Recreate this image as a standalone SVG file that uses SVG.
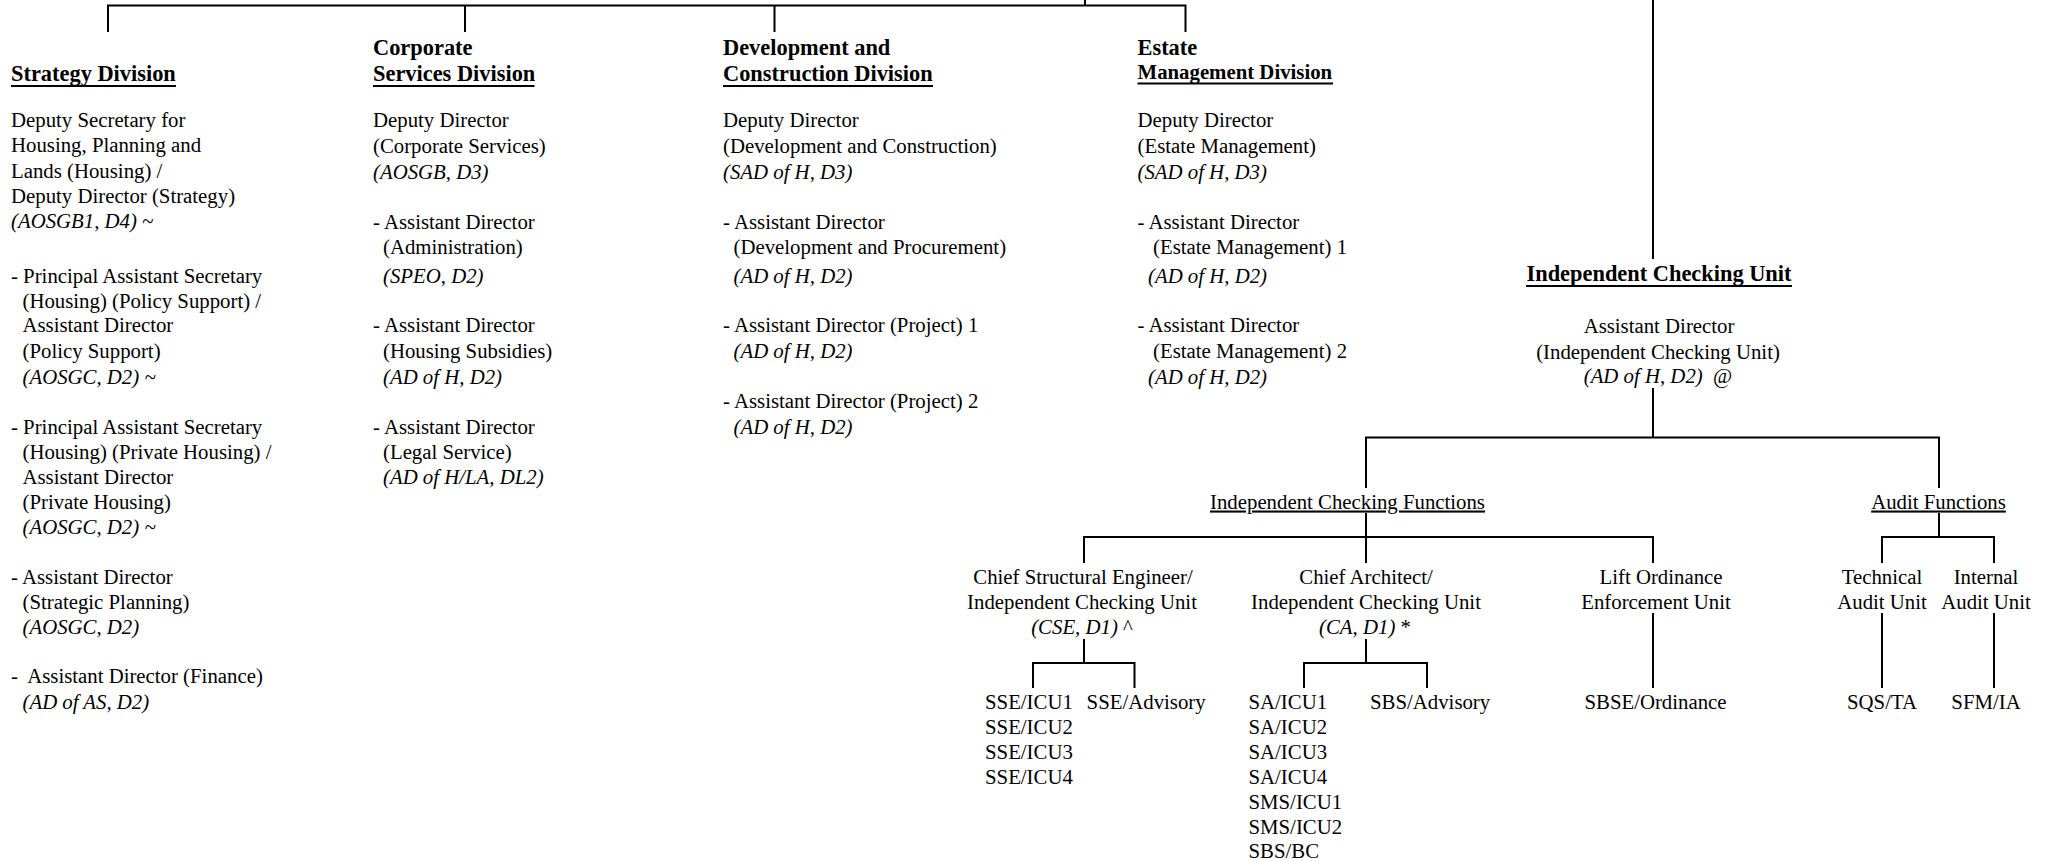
<svg xmlns="http://www.w3.org/2000/svg" width="2048" height="861" viewBox="0 0 2048 861">
<style>
text { font-family: "Liberation Serif", "Times New Roman", serif; font-size: 20.8px; fill: #000; }
.b { font-weight: bold; font-size: 22.4px; }
.bs { font-weight: bold; font-size: 20.8px; }
.i { font-style: italic; }
.n { font-style: normal; }
.c { text-anchor: middle; }
.u { text-decoration: underline; }
.ln { stroke: #000; stroke-width: 2; fill: none; }
.ul { stroke: #000; stroke-width: 2; }
</style>
<rect x="0" y="0" width="2048" height="861" fill="#fff"/>

<g id="connectors" class="ln">
  <path d="M1085 0 V5.5 M107 5.5 H1186.5 M108 5.5 V32 M465 5.5 V32 M774.5 5.5 V32 M1185.5 5.5 V32"/>
  <path d="M1653 0 V259"/>
  <path d="M1653 388 V437.5 M1365 437.5 H1940 M1366 437.5 V488 M1939 437.5 V488"/>
  <path d="M1366 513 V537 M1083 537 H1654 M1084 537 V563 M1366 537 V563 M1653 537 V563"/>
  <path d="M1939 513 V537 M1881 537 H1995 M1882 537 V563 M1994 537 V563"/>
  <path d="M1084 639 V663 M1032 663 H1135.5 M1033 663 V688 M1134.5 663 V688"/>
  <path d="M1366 639 V663 M1303 663 H1428 M1304 663 V688 M1427 663 V688"/>
  <path d="M1653 613 V688"/>
  <path d="M1882 613 V688 M1994 613 V688"/>
</g>

<g id="node-strategy">
  <text class="b" x="11" y="81">Strategy Division</text>
  <line class="ul" x1="11" y1="86" x2="176" y2="86"/>
  <text x="11" y="127">Deputy Secretary for</text>
  <text x="11" y="152">Housing, Planning and</text>
  <text x="11" y="178">Lands (Housing) /</text>
  <text x="11" y="203">Deputy Director (Strategy)</text>
  <text class="i" x="11" y="228">(AOSGB1, D4) ~</text>
  <text x="11" y="283">- Principal Assistant Secretary</text>
  <text x="22.5" y="308">(Housing) (Policy Support) /</text>
  <text x="22.5" y="332">Assistant Director</text>
  <text x="22.5" y="358">(Policy Support)</text>
  <text class="i" x="22.5" y="384">(AOSGC, D2) ~</text>
  <text x="11" y="434">- Principal Assistant Secretary</text>
  <text x="22.5" y="459">(Housing) (Private Housing) /</text>
  <text x="22.5" y="484">Assistant Director</text>
  <text x="22.5" y="509">(Private Housing)</text>
  <text class="i" x="22.5" y="534">(AOSGC, D2) ~</text>
  <text x="11" y="584">- Assistant Director</text>
  <text x="22.5" y="609">(Strategic Planning)</text>
  <text class="i" x="22.5" y="634">(AOSGC, D2)</text>
  <text x="11" y="683" xml:space="preserve">-  Assistant Director (Finance)</text>
  <text class="i" x="22.5" y="709">(AD of AS, D2)</text>
</g>

<g id="node-corporate">
  <text class="b" x="373" y="55">Corporate</text>
  <text class="b" x="373" y="81">Services Division</text>
  <line class="ul" x1="373" y1="86" x2="534.5" y2="86"/>
  <text x="373" y="127">Deputy Director</text>
  <text x="373" y="153">(Corporate Services)</text>
  <text class="i" x="373" y="179">(AOSGB, D3)</text>
  <text x="373" y="229">- Assistant Director</text>
  <text x="383" y="254">(Administration)</text>
  <text class="i" x="383" y="283">(SPEO, D2)</text>
  <text x="373" y="332">- Assistant Director</text>
  <text x="383" y="358">(Housing Subsidies)</text>
  <text class="i" x="383" y="384">(AD of H, D2)</text>
  <text x="373" y="434">- Assistant Director</text>
  <text x="383" y="459">(Legal Service)</text>
  <text class="i" x="383" y="484">(AD of H/LA, DL2)</text>
</g>

<g id="node-devcon">
  <text class="b" x="723" y="55">Development and</text>
  <text class="b" x="723" y="81">Construction Division</text>
  <line class="ul" x1="723" y1="86" x2="933" y2="86"/>
  <text x="723" y="127">Deputy Director</text>
  <text x="723" y="153">(Development and Construction)</text>
  <text class="i" x="723" y="179">(SAD of H, D3)</text>
  <text x="723" y="229">- Assistant Director</text>
  <text x="733.5" y="254">(Development and Procurement)</text>
  <text class="i" x="733.5" y="283">(AD of H, D2)</text>
  <text x="723" y="332">- Assistant Director (Project) 1</text>
  <text class="i" x="733.5" y="358">(AD of H, D2)</text>
  <text x="723" y="408">- Assistant Director (Project) 2</text>
  <text class="i" x="733.5" y="434">(AD of H, D2)</text>
</g>

<g id="node-estate">
  <text class="b" x="1137.5" y="55">Estate</text>
  <text class="bs" x="1137.5" y="79">Management Division</text>
  <line class="ul" x1="1137.5" y1="83.5" x2="1333" y2="83.5"/>
  <text x="1137.5" y="127">Deputy Director</text>
  <text x="1137.5" y="153">(Estate Management)</text>
  <text class="i" x="1137.5" y="179">(SAD of H, D3)</text>
  <text x="1137.5" y="229">- Assistant Director</text>
  <text x="1153" y="254">(Estate Management) 1</text>
  <text class="i" x="1148" y="283">(AD of H, D2)</text>
  <text x="1137.5" y="332">- Assistant Director</text>
  <text x="1153" y="358">(Estate Management) 2</text>
  <text class="i" x="1148" y="384">(AD of H, D2)</text>
</g>

<g id="node-icu">
  <text class="b c" x="1659" y="281">Independent Checking Unit</text>
  <line class="ul" x1="1526" y1="286" x2="1792" y2="286"/>
  <text class="c" x="1659" y="333">Assistant Director</text>
  <text class="c" x="1658" y="359">(Independent Checking Unit)</text>
  <text class="c" x="1658" y="383" xml:space="preserve"><tspan class="i">(AD of H, D2)</tspan>  @</text>
</g>

<g id="node-icf">
  <text class="c u" x="1347.5" y="508.5">Independent Checking Functions</text>
</g>

<g id="node-audit">
  <text class="c u" x="1938.5" y="508.5">Audit Functions</text>
</g>

<g id="node-cse">
  <text class="c" x="1083" y="584">Chief Structural Engineer/</text>
  <text class="c" x="1082" y="609">Independent Checking Unit</text>
  <text class="c" x="1082" y="634"><tspan class="i">(CSE, D1)</tspan> ^</text>
</g>

<g id="node-ca">
  <text class="c" x="1366" y="584">Chief Architect/</text>
  <text class="c" x="1366" y="609">Independent Checking Unit</text>
  <text class="c" x="1365" y="634"><tspan class="i">(CA, D1)</tspan> *</text>
</g>

<g id="node-lift">
  <text class="c" x="1661" y="584">Lift Ordinance</text>
  <text class="c" x="1656" y="609">Enforcement Unit</text>
</g>

<g id="node-tech">
  <text class="c" x="1882" y="584">Technical</text>
  <text class="c" x="1882" y="609">Audit Unit</text>
</g>

<g id="node-internal">
  <text class="c" x="1986" y="584">Internal</text>
  <text class="c" x="1986" y="609">Audit Unit</text>
</g>

<g id="node-sse-icu">
  <text x="985" y="709">SSE/ICU1</text>
  <text x="985" y="734">SSE/ICU2</text>
  <text x="985" y="759">SSE/ICU3</text>
  <text x="985" y="784">SSE/ICU4</text>
</g>

<g id="node-sse-advisory">
  <text x="1086.6" y="709">SSE/Advisory</text>
</g>

<g id="node-sa-icu">
  <text x="1248.5" y="709">SA/ICU1</text>
  <text x="1248.5" y="734">SA/ICU2</text>
  <text x="1248.5" y="759">SA/ICU3</text>
  <text x="1248.5" y="784">SA/ICU4</text>
  <text x="1248.5" y="809">SMS/ICU1</text>
  <text x="1248.5" y="834">SMS/ICU2</text>
  <text x="1248.5" y="858">SBS/BC</text>
</g>

<g id="node-sbs-advisory">
  <text x="1370" y="709">SBS/Advisory</text>
</g>

<g id="node-sbse">
  <text class="c" x="1655.5" y="709">SBSE/Ordinance</text>
</g>

<g id="node-sqs">
  <text class="c" x="1882" y="709">SQS/TA</text>
</g>

<g id="node-sfm">
  <text class="c" x="1986" y="709">SFM/IA</text>
</g>
</svg>
